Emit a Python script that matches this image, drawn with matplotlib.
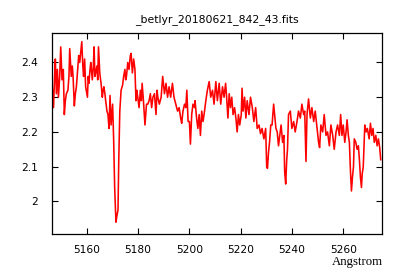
import matplotlib
matplotlib.use("Agg")
import matplotlib.pyplot as plt

# spectrum samples (wavelength in Angstrom, relative flux)
wave = [5146.6, 5147.1, 5147.5, 5147.8, 5148.2, 5148.6, 5149.0, 5149.5, 5149.9, 5150.4,
        5150.9, 5151.3, 5151.7, 5152.1, 5152.7, 5153.1, 5153.4, 5154.0, 5154.4, 5154.7,
        5155.2, 5155.6, 5156.0, 5156.5, 5156.9, 5157.3, 5157.7, 5158.1, 5158.5, 5158.8,
        5159.2, 5159.6, 5160.3, 5160.6, 5160.9, 5161.3, 5161.6, 5162.2, 5162.6, 5162.9,
        5163.2, 5163.5, 5164.0, 5164.3, 5164.6, 5165.1, 5165.6, 5166.1, 5166.4, 5166.7,
        5167.1, 5167.4, 5167.9, 5168.3, 5168.7, 5169.1, 5169.5, 5170.1, 5170.5, 5170.9,
        5171.4, 5171.8, 5172.2, 5172.5, 5172.9, 5173.4, 5174.0, 5174.4, 5174.9, 5175.2,
        5175.5, 5176.0, 5176.5, 5177.0, 5177.3, 5177.8, 5178.3, 5178.8, 5179.2, 5179.5,
        5179.9, 5180.4, 5180.9, 5181.3, 5181.6, 5182.1, 5182.7, 5183.3, 5183.8, 5184.3,
        5184.8, 5185.3, 5185.8, 5186.4, 5187.0, 5187.4, 5187.7, 5188.3, 5189.0, 5189.6,
        5190.3, 5190.9, 5191.5, 5192.1, 5192.7, 5193.4, 5194.0, 5194.7, 5195.4, 5196.0,
        5196.6, 5197.0, 5197.5, 5198.1, 5198.6, 5199.0, 5199.5, 5200.0, 5200.4, 5200.9,
        5201.4, 5202.0, 5202.2, 5202.8, 5203.3, 5203.8, 5204.3, 5204.8, 5205.3, 5205.9,
        5206.4, 5207.0, 5207.7, 5208.3, 5209.0, 5209.6, 5210.3, 5210.9, 5211.6, 5212.2,
        5212.9, 5213.5, 5214.1, 5214.5, 5215.0, 5215.5, 5216.0, 5216.5, 5217.0, 5217.6,
        5218.1, 5218.6, 5219.1, 5219.6, 5220.2, 5220.5, 5220.9, 5221.5, 5222.0, 5222.5,
        5223.2, 5223.8, 5224.5, 5225.1, 5225.8, 5226.4, 5227.1, 5227.7, 5228.3, 5229.0,
        5229.7, 5230.1, 5230.4, 5230.8, 5231.2, 5231.7, 5232.2, 5232.8, 5233.2, 5233.7,
        5234.2, 5234.7, 5235.2, 5235.7, 5236.3, 5236.8, 5237.1, 5237.5, 5237.9, 5238.2,
        5238.6, 5239.3, 5239.9, 5240.6, 5241.2, 5241.9, 5242.5, 5243.2, 5243.8, 5244.5,
        5244.9, 5245.4, 5245.8, 5246.4, 5247.1, 5247.7, 5248.4, 5249.0, 5249.7, 5250.3,
        5250.7, 5251.2, 5251.9, 5252.5, 5253.2, 5253.8, 5254.5, 5255.1, 5255.8, 5256.4,
        5257.1, 5257.7, 5258.4, 5258.9, 5259.4, 5259.9, 5260.5, 5261.0, 5261.4, 5261.9,
        5262.3, 5262.7, 5263.1, 5263.5, 5263.9, 5264.2, 5264.8, 5265.3, 5265.8, 5266.2,
        5266.6, 5267.0, 5267.3, 5267.7, 5268.3, 5268.8, 5269.3, 5270.0, 5270.5, 5271.0,
        5271.5, 5272.0, 5272.6, 5273.1, 5273.6, 5274.1, 5274.5]
flux = [2.33, 2.27, 2.36, 2.41, 2.31, 2.38, 2.30, 2.36, 2.445, 2.35,
        2.38, 2.25, 2.29, 2.31, 2.32, 2.36, 2.44, 2.36, 2.39, 2.36,
        2.275, 2.31, 2.33, 2.38, 2.42, 2.40, 2.43, 2.46, 2.39, 2.36,
        2.41, 2.33, 2.30, 2.36, 2.34, 2.38, 2.40, 2.35, 2.39, 2.445,
        2.36, 2.37, 2.39, 2.35, 2.445, 2.37, 2.34, 2.30, 2.32, 2.33,
        2.31, 2.29, 2.26, 2.25, 2.21, 2.305, 2.22, 2.28, 2.18, 2.04,
        1.94, 1.96, 1.975, 2.12, 2.26, 2.32, 2.335, 2.36, 2.38, 2.35,
        2.36, 2.40, 2.38, 2.42, 2.426, 2.37, 2.41, 2.38, 2.29, 2.32,
        2.30, 2.27, 2.32, 2.29, 2.34, 2.29, 2.22, 2.28, 2.28, 2.29,
        2.31, 2.27, 2.30, 2.31, 2.25, 2.32, 2.30, 2.28, 2.30, 2.36,
        2.31, 2.34, 2.30, 2.33, 2.30, 2.34, 2.30, 2.28, 2.26, 2.27,
        2.24, 2.225, 2.26, 2.28, 2.27, 2.32, 2.23, 2.23, 2.165, 2.25,
        2.28, 2.27, 2.29, 2.24, 2.21, 2.25, 2.19, 2.26, 2.23, 2.26,
        2.29, 2.32, 2.345, 2.30, 2.32, 2.28, 2.345, 2.29, 2.34, 2.28,
        2.33, 2.30, 2.34, 2.30, 2.24, 2.31, 2.27, 2.30, 2.25, 2.27,
        2.24, 2.20, 2.25, 2.22, 2.25, 2.326, 2.26, 2.30, 2.24, 2.29,
        2.25, 2.30, 2.27, 2.23, 2.27, 2.21, 2.22, 2.195, 2.21, 2.18,
        2.21, 2.10, 2.095, 2.14, 2.17, 2.22, 2.22, 2.28, 2.25, 2.21,
        2.20, 2.16, 2.19, 2.22, 2.17, 2.19, 2.085, 2.05, 2.12, 2.15,
        2.25, 2.26, 2.21, 2.23, 2.20, 2.23, 2.26, 2.24, 2.28, 2.25,
        2.26, 2.115, 2.25, 2.295, 2.24, 2.27, 2.23, 2.26, 2.21, 2.17,
        2.155, 2.22, 2.20, 2.25, 2.19, 2.20, 2.16, 2.22, 2.19, 2.15,
        2.20, 2.22, 2.19, 2.25, 2.19, 2.22, 2.17, 2.20, 2.235, 2.19,
        2.17, 2.09, 2.03, 2.07, 2.10, 2.18, 2.17, 2.15, 2.16, 2.12,
        2.07, 2.04, 2.08, 2.10, 2.22, 2.20, 2.21, 2.18, 2.225, 2.19,
        2.21, 2.17, 2.19, 2.16, 2.18, 2.155, 2.12]

xticks = [5160, 5180, 5200, 5220, 5240, 5260]
yticks = [2.0, 2.1, 2.2, 2.3, 2.4]
yticklabels = ["2", "2.1", "2.2", "2.3", "2.4"]

fig = plt.figure(figsize=(4, 2.8), dpi=100)
ax = fig.add_axes([0.13, 0.163, 0.825, 0.718])

ax.plot(wave, flux, color="#ff0000", linewidth=1.15)

ax.set_xlim(5146.5, 5275)
ax.set_ylim(1.905, 2.484)
ax.set_xticks(xticks)
ax.set_yticks(yticks)
ax.set_yticklabels(yticklabels)
ax.tick_params(direction="in", length=4, width=0.8, top=True, right=True,
               labelsize=7.7, pad=8)
ax.tick_params(axis="y", pad=10)
for s in ax.spines.values():
    s.set_linewidth(0.9)

ax.set_title("_betlyr_20180621_842_43.fits", fontsize=7.8, pad=8)
fig.text(0.957, 0.042, "Angstrom", ha="right", va="bottom",
         fontsize=9.2, family="Liberation Serif")

fig.savefig("out.png", dpi=100)
